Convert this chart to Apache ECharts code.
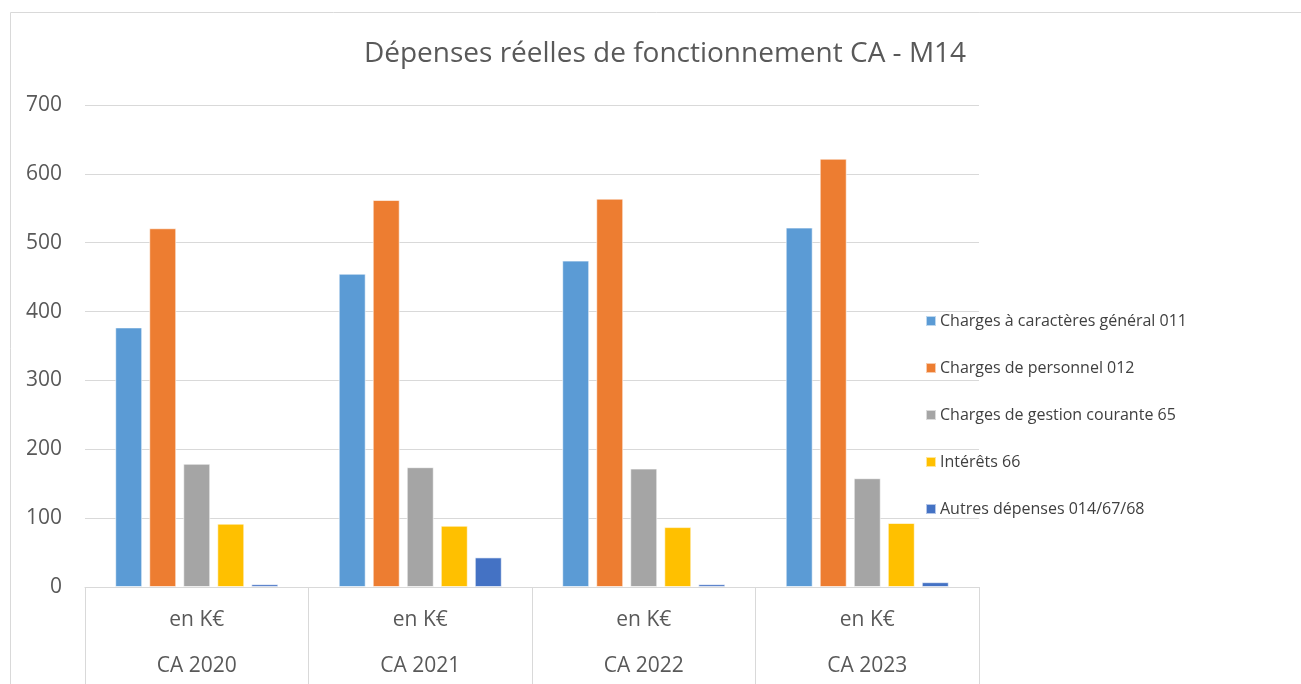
<!DOCTYPE html>
<html>
<head>
<meta charset="utf-8">
<script src="https://cdn.jsdelivr.net/npm/echarts@6/dist/echarts.min.js"></script>
<style>
  html, body { margin: 0; padding: 0; background: #fff; }
  #chart { width: 1301px; height: 684px; }
</style>
</head>
<body>
<div id="chart"></div>
<script>
// Dépenses réelles de fonctionnement (en K€)
const categories = ['CA 2020', 'CA 2021', 'CA 2022', 'CA 2023'];
const unitLabel = 'en K€';
const seriesNames = [
  'Charges à caractères général 011',
  'Charges de personnel 012',
  'Charges de gestion courante 65',
  'Intérêts 66',
  'Autres dépenses 014/67/68'
];
const chargesGeneral = [377, 455, 474, 522];
const chargesPersonnel = [521, 562, 564, 622];
const gestionCourante = [179, 174, 172, 158];
const interets = [92, 89, 87, 93];
const autresDepenses = [4, 43, 4, 7];
const yTicks = [0, 100, 200, 300, 400, 500, 600, 700];

const colors = ['#5B9BD5', '#ED7D31', '#A5A5A5', '#FFC000', '#4472C4'];
const values = [chargesGeneral, chargesPersonnel, gestionCourante, interets, autresDepenses];
const font = '"Open Sans", sans-serif';

const chart = echarts.init(document.getElementById('chart'));
chart.setOption({
  animation: false,
  color: colors,
  textStyle: { fontFamily: font },
  graphic: [{
    type: 'rect',
    shape: { x: 10.5, y: 12.5, width: 1400, height: 800 },
    style: { fill: 'none', stroke: '#d9d9d9', lineWidth: 1 },
    silent: true
  }],
  title: {
    text: 'Dépenses réelles de fonctionnement CA - M14',
    left: 660, top: 35, textAlign: 'center',
    textStyle: { fontFamily: font, fontSize: 28, fontWeight: 'normal', color: '#595959' }
  },
  legend: {
    orient: 'vertical',
    left: 925, top: 313, padding: 0,
    itemWidth: 10, itemHeight: 10, itemGap: 31,
    icon: 'rect',
    textStyle: { fontFamily: font, fontSize: 16, color: '#404040', padding: [0, 0, 0, -1] },
    data: seriesNames
  },
  grid: { left: 85, right: 322, top: 105, bottom: 97, containLabel: false, outerBoundsMode: 'none' },
  xAxis: {
    type: 'category',
    data: categories,
    axisLine: { lineStyle: { color: '#d9d9d9', width: 1 } },
    axisTick: { show: true, interval: 0, length: 100, lineStyle: { color: '#d9d9d9' } },
    axisLabel: {
      interval: 0, margin: 10, lineHeight: 46,
      fontFamily: font, fontSize: 21, color: '#595959',
      formatter: v => unitLabel + '\n' + v
    }
  },
  yAxis: {
    type: 'value',
    min: yTicks[0], max: yTicks[yTicks.length - 1], interval: 100,
    axisLine: { show: false },
    axisTick: { show: false },
    splitLine: { lineStyle: { color: '#d9d9d9', width: 1 } },
    axisLabel: { margin: 23, fontFamily: font, fontSize: 21, color: '#595959' }
  },
  series: seriesNames.map((name, i) => ({
    name: name,
    type: 'bar',
    data: values[i],
    barWidth: 27,
    barGap: '26%',
    itemStyle: { color: colors[i], borderColor: 'rgba(255,255,255,0.6)', borderWidth: 1 }
  }))
});
</script>
</body>
</html>
